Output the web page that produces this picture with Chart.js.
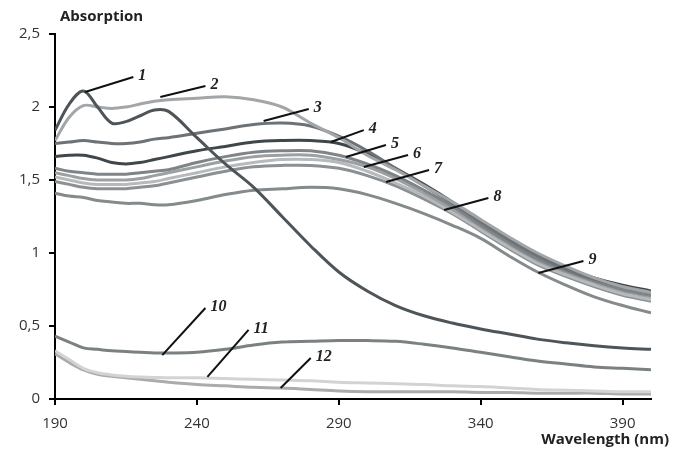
<!DOCTYPE html>
<html>
<head>
<meta charset="utf-8">
<script src="https://cdn.jsdelivr.net/npm/chart.js@4.4.1/dist/chart.umd.min.js"></script>
<style>
  body { margin: 0; background: #fff; }
  #wrap { width: 673px; height: 450px; }
</style>
</head>
<body>
<div id="wrap"><canvas id="spectraChart" width="673" height="450"></canvas></div>
<script>
// wavelengths (nm)
const wavelengths = [190, 195, 200, 205, 210, 215, 220, 225, 230, 240, 250, 260, 270, 280, 290, 300, 310, 320, 330, 340, 350, 360, 370, 380, 390, 400];

// absorption for each sample
const curve1 = [1.84, 2.02, 2.11, 2.00, 1.89, 1.90, 1.94, 1.98, 1.97, 1.79, 1.61, 1.45, 1.25, 1.05, 0.87, 0.74, 0.64, 0.57, 0.52, 0.48, 0.445, 0.41, 0.385, 0.365, 0.35, 0.34];
const curve2 = [1.77, 1.93, 2.01, 2.00, 1.99, 2.00, 2.02, 2.04, 2.05, 2.06, 2.07, 2.05, 2.00, 1.89, 1.79, 1.67, 1.57, 1.46, 1.35, 1.23, 1.11, 1.00, 0.91, 0.83, 0.77, 0.73];
const curve3 = [1.75, 1.76, 1.77, 1.76, 1.75, 1.75, 1.76, 1.78, 1.79, 1.82, 1.85, 1.88, 1.89, 1.87, 1.80, 1.70, 1.58, 1.46, 1.34, 1.21, 1.09, 0.98, 0.89, 0.82, 0.77, 0.73];
const curve4 = [1.66, 1.67, 1.67, 1.65, 1.62, 1.61, 1.62, 1.64, 1.66, 1.70, 1.73, 1.76, 1.77, 1.77, 1.75, 1.68, 1.58, 1.47, 1.35, 1.22, 1.10, 0.99, 0.90, 0.83, 0.78, 0.74];
const curve5 = [1.58, 1.56, 1.55, 1.54, 1.54, 1.54, 1.55, 1.56, 1.57, 1.62, 1.66, 1.69, 1.70, 1.70, 1.67, 1.61, 1.53, 1.43, 1.32, 1.19, 1.07, 0.96, 0.88, 0.81, 0.75, 0.71];
const curve6 = [1.55, 1.53, 1.51, 1.50, 1.50, 1.50, 1.51, 1.53, 1.55, 1.59, 1.63, 1.66, 1.67, 1.67, 1.64, 1.59, 1.51, 1.41, 1.30, 1.18, 1.06, 0.95, 0.87, 0.80, 0.74, 0.70];
const curve7 = [1.52, 1.50, 1.48, 1.47, 1.47, 1.47, 1.48, 1.49, 1.51, 1.55, 1.59, 1.62, 1.64, 1.64, 1.62, 1.56, 1.48, 1.39, 1.28, 1.16, 1.04, 0.93, 0.85, 0.78, 0.72, 0.68];
const curve8 = [1.49, 1.47, 1.45, 1.44, 1.44, 1.44, 1.45, 1.46, 1.48, 1.52, 1.56, 1.59, 1.60, 1.60, 1.58, 1.53, 1.46, 1.37, 1.27, 1.15, 1.03, 0.92, 0.84, 0.77, 0.71, 0.67];
const curve9 = [1.41, 1.39, 1.38, 1.36, 1.35, 1.34, 1.34, 1.33, 1.33, 1.36, 1.40, 1.43, 1.44, 1.45, 1.44, 1.40, 1.34, 1.27, 1.19, 1.10, 0.98, 0.87, 0.78, 0.70, 0.64, 0.59];
const curve10 = [0.43, 0.39, 0.35, 0.34, 0.33, 0.325, 0.32, 0.315, 0.315, 0.32, 0.34, 0.37, 0.39, 0.395, 0.40, 0.40, 0.395, 0.375, 0.35, 0.32, 0.29, 0.26, 0.24, 0.22, 0.21, 0.20];
const curve11 = [0.33, 0.27, 0.21, 0.18, 0.165, 0.155, 0.15, 0.148, 0.145, 0.145, 0.14, 0.135, 0.13, 0.125, 0.115, 0.11, 0.105, 0.10, 0.09, 0.085, 0.075, 0.065, 0.06, 0.055, 0.05, 0.05];
const curve12 = [0.31, 0.25, 0.20, 0.17, 0.155, 0.145, 0.135, 0.125, 0.115, 0.10, 0.09, 0.08, 0.075, 0.065, 0.055, 0.05, 0.05, 0.05, 0.05, 0.045, 0.045, 0.04, 0.04, 0.04, 0.035, 0.035];

const xTicks = [190, 240, 290, 340, 390];
const yTicks = [0, 0.5, 1, 1.5, 2, 2.5];

const series = [curve1, curve2, curve3, curve4, curve5, curve6, curve7, curve8, curve9, curve10, curve11, curve12];
const colors = ['#4d5559', '#a3a6a8', '#6c7276', '#40474b', '#7e8487', '#9ca0a2', '#b7babc', '#8b9093',
                '#858a8d', '#7b8083', '#d2d3d4', '#a9abad'];

// numbered callouts: anchor on curve -> end of leader line (data units)
const callouts = [
  { label: '1',  from: [200.6, 2.103], to: [217.6, 2.205] },
  { label: '2',  from: [227.1, 2.068], to: [243.0, 2.144] },
  { label: '3',  from: [263.5, 1.904], to: [279.4, 1.986] },
  { label: '4',  from: [287.2, 1.760], to: [298.8, 1.842] },
  { label: '5',  from: [292.5, 1.658], to: [306.6, 1.740] },
  { label: '6',  from: [298.8, 1.589], to: [314.4, 1.671] },
  { label: '7',  from: [306.6, 1.486], to: [321.8, 1.568] },
  { label: '8',  from: [327.1, 1.295], to: [342.7, 1.377] },
  { label: '9',  from: [360.3, 0.863], to: [376.2, 0.945] },
  { label: '10', from: [227.8, 0.301], to: [243.0, 0.623] },
  { label: '11', from: [243.7, 0.151], to: [258.2, 0.473] },
  { label: '12', from: [269.5, 0.075], to: [280.1, 0.281] }
];

const calloutPlugin = {
  id: 'callouts',
  afterDatasetsDraw(chart) {
    const { ctx, scales: { x, y } } = chart;
    ctx.save();
    ctx.strokeStyle = '#111';
    ctx.lineWidth = 2;
    ctx.fillStyle = '#222';
    ctx.font = 'italic bold 16px "Liberation Serif", "DejaVu Serif", serif';
    ctx.textBaseline = 'middle';
    ctx.textAlign = 'left';
    callouts.forEach(c => {
      const x0 = x.getPixelForValue(c.from[0]), y0 = y.getPixelForValue(c.from[1]);
      const x1 = x.getPixelForValue(c.to[0]), y1 = y.getPixelForValue(c.to[1]);
      ctx.beginPath();
      ctx.moveTo(x0, y0);
      ctx.lineTo(x1, y1);
      ctx.stroke();
      ctx.fillText(c.label, x1 + 5, y1 - 1);
    });
    ctx.restore();
  }
};

const titlePlugin = {
  id: 'axisTitles',
  afterDraw(chart) {
    const { ctx, chartArea } = chart;
    ctx.save();
    ctx.fillStyle = '#222';
    ctx.font = 'bold 15px "Open Sans", sans-serif';
    ctx.textBaseline = 'middle';
    ctx.textAlign = 'left';
    ctx.fillText('Absorption', chartArea.left + 5, chartArea.top - 17);
    ctx.textAlign = 'right';
    ctx.fillText('Wavelength (nm)', chart.width - 4, chart.height - 10);
    ctx.restore();
  }
};

const ctx = document.getElementById('spectraChart').getContext('2d');
new Chart(ctx, {
  type: 'line',
  data: {
    datasets: series.map((vals, i) => ({
      label: String(i + 1),
      data: vals.map((v, j) => ({ x: wavelengths[j], y: v })),
      borderColor: colors[i],
      borderWidth: 3,
      pointRadius: 0,
      fill: false,
      tension: 0.35
    }))
  },
  options: {
    responsive: false,
    animation: false,
    layout: { padding: { top: 34, right: 22, left: 0, bottom: 0 } },
    plugins: {
      legend: { display: false },
      tooltip: { enabled: false }
    },
    scales: {
      x: {
        type: 'linear',
        min: 190,
        max: 400,
        afterBuildTicks: scale => { scale.ticks = xTicks.map(v => ({ value: v })); },
        afterFit: scale => { scale.height = 51; },
        border: { display: true, color: '#000', width: 2 },
        grid: { drawOnChartArea: false, drawTicks: true, tickLength: 6, color: '#000', lineWidth: 2 },
        ticks: { color: '#333', padding: 10, maxRotation: 0, font: { size: 15, family: '"Open Sans", sans-serif' } }
      },
      y: {
        min: 0,
        max: 2.5,
        afterBuildTicks: scale => { scale.ticks = yTicks.map(v => ({ value: v })); },
        afterFit: scale => { scale.width = 55; },
        border: { display: true, color: '#000', width: 2 },
        grid: { drawOnChartArea: false, drawTicks: true, tickLength: 6, color: '#000', lineWidth: 2 },
        ticks: {
          color: '#333',
          padding: 9,
          font: { size: 15, family: '"Open Sans", sans-serif' },
          callback: v => String(v).replace('.', ',')
        }
      }
    }
  },
  plugins: [calloutPlugin, titlePlugin]
});
</script>
</body>
</html>
